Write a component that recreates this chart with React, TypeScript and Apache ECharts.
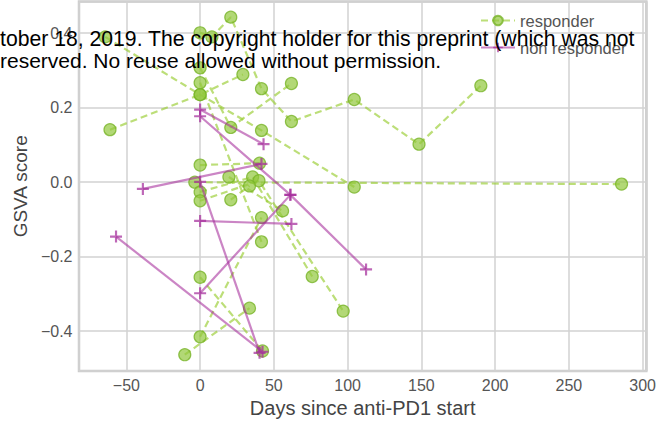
import React, { useEffect, useRef } from "react";
import * as echarts from "echarts";

const xTicks = [-50, 0, 50, 100, 150, 200, 250, 300];
const yTicks = [-0.4, -0.2, 0.0, 0.2, 0.4];

// responder trajectories: [days since anti-PD1 start, GSVA score]
const resp1 = [[-64.3, 0.39], [0, 0.235], [41.6, 0.139], [104.5, -0.013]];
const resp2 = [[-3.6, 0.0], [285.7, -0.005]];
const resp3 = [[-61.1, 0.141], [0, 0.235], [29, 0.289]];
const resp4 = [[0, 0.307], [20.8, 0.147], [61.9, 0.265]];
const resp5 = [[0, 0.401], [8, 0.39], [20.8, 0.443], [41.6, 0.251], [61.9, 0.163], [104.5, 0.222], [148.4, 0.102], [190.3, 0.259]];
const resp6 = [[0, 0.267], [41.6, -0.16]];
const resp7 = [[0, 0.046], [40.3, 0.051]];
const resp8 = [[-10.4, -0.463], [33.5, -0.338]];
const resp9 = [[0, -0.255], [42.3, -0.453]];
const resp10 = [[0, -0.415], [41.6, -0.095]];
const resp11 = [[0, -0.026], [35.6, 0.014], [76, -0.253]];
const resp12 = [[0, -0.05], [39.9, 0.004], [97, -0.346]];
const resp13 = [[19.5, 0.014], [55.9, -0.077]];
const resp14 = [[20.8, -0.047], [33.5, -0.01]];

// non responder trajectories
const non1 = [[-38.8, -0.018], [41.6, 0.049]];
const non2 = [[0, 0.195], [43, 0.102]];
const non3 = [[0, 0.177], [61.2, -0.034], [112.5, -0.234]];
const non4 = [[0, 0.001], [40.3, -0.458]];
const non5 = [[-57, -0.146], [42.3, -0.455]];
const non6 = [[0, -0.104], [61.9, -0.112]];
const non7 = [[0, -0.298], [61.2, -0.034]];

const responderTracks = [resp1, resp2, resp3, resp4, resp5, resp6, resp7, resp8, resp9, resp10, resp11, resp12, resp13, resp14];
const nonResponderTracks = [non1, non2, non3, non4, non5, non6, non7];

const FONT = '"Liberation Sans", Arial, Helvetica, sans-serif';
const GREEN_LINE = "rgba(154,205,50,0.66)";
const GREEN_MARK = "rgba(145,200,60,0.7)";
const GREEN_EDGE = "rgba(120,180,40,0.8)";
const PURPLE_LINE = "rgba(165,45,155,0.58)";
const PURPLE_MARK = "rgba(165,45,155,0.72)";
const PLUS = "path://M4.1,0H5.9V4.1H10V5.9H5.9V10H4.1V5.9H0V4.1H4.1Z";

const fmt = (v: number, ticks: number[], digits: number) => {
  const hit = ticks.find((t) => Math.abs(t - v) < 1e-6);
  if (hit === undefined) return "";
  const s = digits > 0 ? Math.abs(hit).toFixed(digits) : String(Math.abs(hit));
  return hit < 0 ? "\u2212" + s : s;
};

export default function App() {
  const ref = useRef<HTMLDivElement>(null);
  useEffect(() => {
    document.body.style.margin = "0";
    const chart = echarts.init(ref.current!, undefined, { renderer: "svg" });
    const series: any[] = [];
    responderTracks.forEach((t) =>
      series.push({
        type: "line",
        name: "responder",
        data: t,
        symbol: "circle",
        symbolSize: 12,
        showSymbol: true,
        lineStyle: { color: GREEN_LINE, width: 2.2, type: [7, 4] },
        itemStyle: { color: GREEN_MARK, borderColor: GREEN_EDGE, borderWidth: 1.2 },
        emphasis: { disabled: true },
        z: 2,
      })
    );
    nonResponderTracks.forEach((t) =>
      series.push({
        type: "line",
        name: "non responder",
        data: t,
        symbol: PLUS,
        symbolSize: 12,
        showSymbol: true,
        lineStyle: { color: PURPLE_LINE, width: 2.2, type: "solid" },
        itemStyle: { color: PURPLE_MARK, borderWidth: 0 },
        emphasis: { disabled: true },
        z: 3,
      })
    );
    chart.setOption({
      animation: false,
      grid: {
        left: 79,
        right: 10.7,
        top: 1.5,
        bottom: 49.5,
        show: true,
        borderColor: "#cccccc",
        borderWidth: 2.5,
        backgroundColor: "transparent",
      },
      legend: {
        data: ["responder", "non responder"],
        orient: "vertical",
        left: 475,
        top: 7,
        itemWidth: 34,
        itemHeight: 12,
        itemGap: 10,
        textStyle: { fontFamily: FONT, fontSize: 16.5, color: "#555" },
        selectedMode: false,
      },
      xAxis: {
        type: "value",
        min: -82.1,
        max: 302.5,
        minInterval: 50,
        maxInterval: 50,
        splitNumber: 7,
        name: "Days since anti-PD1 start",
        nameLocation: "middle",
        nameGap: 26,
        nameTextStyle: { fontFamily: FONT, fontSize: 20, color: "#444" },
        axisLine: { show: false },
        axisTick: { show: false },
        axisLabel: {
          fontFamily: FONT,
          fontSize: 16,
          color: "#555",
          margin: 6,
          showMinLabel: false,
          showMaxLabel: false,
          formatter: (v: number) => fmt(v, xTicks, 0),
        },
        splitLine: { show: true, lineStyle: { color: "#d2d2d2", width: 1.5 } },
      },
      yAxis: {
        type: "value",
        min: -0.507,
        max: 0.485,
        minInterval: 0.2,
        maxInterval: 0.2,
        splitNumber: 5,
        name: "GSVA score",
        nameLocation: "middle",
        nameGap: 47,
        nameTextStyle: { fontFamily: FONT, fontSize: 19, color: "#444" },
        axisLine: { show: false },
        axisTick: { show: false },
        axisLabel: {
          fontFamily: FONT,
          fontSize: 16,
          color: "#555",
          margin: 6.5,
          showMinLabel: false,
          showMaxLabel: false,
          formatter: (v: number) => fmt(v, yTicks, 1),
        },
        splitLine: { show: true, lineStyle: { color: "#d2d2d2", width: 1.5 } },
      },
      graphic: [
        {
          type: "text",
          x: 0,
          y: 38.5,
          z: 100,
          style: {
            text: "tober 18, 2019. The copyright holder for this preprint (which was not",
            fontFamily: FONT,
            fontSize: 21.2,
            fill: "#000",
            verticalAlign: "middle",
          },
        },
        {
          type: "text",
          x: 0,
          y: 60.5,
          z: 100,
          style: {
            text: "reserved. No reuse allowed without permission.",
            fontFamily: FONT,
            fontSize: 21,
            fill: "#000",
            verticalAlign: "middle",
          },
        },
      ],
      series,
    });
    return () => chart.dispose();
  }, []);
  return <div ref={ref} style={{ width: 659, height: 423 }} />;
}
